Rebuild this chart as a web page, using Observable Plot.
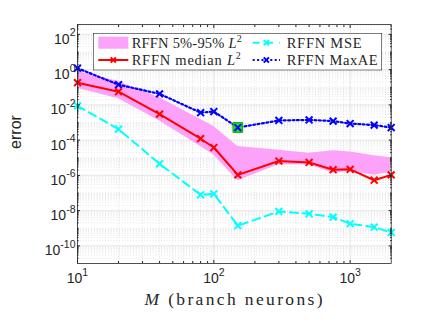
<!DOCTYPE html>
<html><head><meta charset="utf-8">
<script src="https://cdn.jsdelivr.net/npm/d3@7"></script>
<script src="https://cdn.jsdelivr.net/npm/@observablehq/plot@0.6"></script>
<style>
html,body{margin:0;padding:0;background:#fff;}
#chart{position:relative;width:432px;height:324px;}
</style></head><body><div id="chart"></div>
<script>
// ---- data ----
const M      = [10, 20, 40, 80, 100, 150, 300, 500, 750, 1000, 1500, 2000];
const median = [0.18, 0.056, 0.0030, 1.2e-4, 3.8e-5, 1.07e-6, 6.5e-6, 5.4e-6, 2.1e-6, 2.2e-6, 5.3e-7, 1.07e-6];
const q05    = [0.089, 0.022, 1.2e-3, 4.4e-5, 1.45e-5, 5e-7, 4e-6, 4e-6, 1.3e-6, 1.7e-6, 1.0e-6, 1.5e-6];
const q95    = [0.78, 0.21, 0.025, 1.5e-3, 5.9e-4, 4.4e-5, 2.7e-5, 1.8e-5, 2.5e-5, 2.1e-5, 1.3e-5, 1.0e-5];
const mse    = [8.8e-3, 4.2e-4, 4.5e-6, 7.9e-8, 9e-8, 1.4e-9, 9e-9, 6.6e-9, 4.3e-9, 1.8e-9, 1.15e-9, 5.8e-10];
const maxae  = [1.2, 0.14, 0.042, 0.0036, 0.0042, 5.2e-4, 1.3e-3, 1.4e-3, 1.2e-3, 8.7e-4, 7.1e-4, 5.2e-4];
const highlightM = [150];
const highlightErr = [5.2e-4];
const xTicks = [10, 100, 1000];
const yTicks = [1e-10, 1e-8, 1e-6, 1e-4, 1e-2, 1, 1e2];
const legendLabels = ["RFFN 5%-95% ", "RFFN median ", "RFFN MSE", "RFFN MaxAE"];
const xLabel = "M";
const xLabelRest = " (branch neurons)";
const yLabel = "error";

const rows = M.map((m, i) => ({M: m, median: median[i], q05: q05[i], q95: q95[i], mse: mse[i], maxae: maxae[i]}));
const hl = highlightM.map((m, i) => ({M: m, v: highlightErr[i]}));

const xDomain = [10, 2000];
const yDomain = [1e-11, Math.pow(10, 2.56)];
// minor ticks / grid
const xMinor = [];
for (const d of [10, 100, 1000]) for (let k = 2; k <= 9; k++) { const v = k * d; if (v < xDomain[1]) xMinor.push(v); }
const yMinor = [];
for (let e = -11; e <= 2; e++) for (let k = 1; k <= 9; k++) {
  const v = k * Math.pow(10, e);
  if (k === 1 && e % 2 === 0) continue;
  if (v > yDomain[0] && v < yDomain[1]) yMinor.push(v);
}

const AX = "#262626";
const sans = "'Liberation Sans', Arial, Helvetica, sans-serif";
const serif = "'Liberation Serif', 'Times New Roman', serif";
const fmt = d => "10^" + Math.round(Math.log10(d));
const MR = 3.2;

const plot = Plot.plot({
  width: 432, height: 324,
  marginLeft: 77, marginRight: 41.3, marginTop: 24, marginBottom: 61,
  style: {background: "transparent", fontFamily: sans, fontSize: "14px", color: AX, overflow: "visible"},
  x: {type: "log", domain: xDomain},
  y: {type: "log", domain: yDomain},
  marks: [
    Plot.ruleX(xMinor, {stroke: "#cfcfcf", strokeWidth: 0.5, strokeDasharray: "1,1.8"}),
    Plot.ruleY(yMinor, {stroke: "#cfcfcf", strokeWidth: 0.5, strokeDasharray: "1,1.8"}),
    Plot.ruleX(xTicks, {stroke: "#dcdcdc", strokeWidth: 0.7}),
    Plot.ruleY(yTicks, {stroke: "#dcdcdc", strokeWidth: 0.7}),
    Plot.areaY(rows, {x: "M", y1: "q05", y2: "q95", fill: "#fca2f8"}),
    Plot.line(rows, {x: "M", y: "mse", stroke: "#00ffff", strokeWidth: 2, strokeDasharray: "8,5"}),
    Plot.dot(rows, {x: "M", y: "mse", symbol: "times", r: MR, stroke: "#00ffff", strokeWidth: 2}),
    Plot.line(rows, {x: "M", y: "maxae", stroke: "#0000ff", strokeWidth: 2.2, strokeDasharray: "2,2.4"}),
    Plot.dot(hl, {x: "M", y: "v", symbol: "square", r: 5.5, fill: "#22e022", stroke: "#00b000", strokeWidth: 1}),
    Plot.dot(rows, {x: "M", y: "maxae", symbol: "times", r: MR, stroke: "#0000ff", strokeWidth: 2}),
    Plot.line(rows, {x: "M", y: "median", stroke: "#ff0000", strokeWidth: 2}),
    Plot.dot(rows, {x: "M", y: "median", symbol: "times", r: MR, stroke: "#ff0000", strokeWidth: 2}),
    // tick marks (inward) on all four sides
    Plot.axisX(xTicks, {anchor: "bottom", tickSize: -3, tickFormat: () => "", label: null, stroke: AX}),
    Plot.axisX(xTicks, {anchor: "top", tickSize: -3, tickFormat: () => "", label: null, stroke: AX}),
    Plot.axisX(xMinor, {anchor: "bottom", tickSize: -2, tickFormat: () => "", label: null, stroke: AX}),
    Plot.axisX(xMinor, {anchor: "top", tickSize: -2, tickFormat: () => "", label: null, stroke: AX}),
    Plot.axisY(yTicks, {anchor: "left", tickSize: -3, tickFormat: () => "", label: null, stroke: AX}),
    Plot.axisY(yTicks, {anchor: "right", tickSize: -3, tickFormat: () => "", label: null, stroke: AX}),
    Plot.axisY(yMinor, {anchor: "left", tickSize: -1.6, tickFormat: () => "", label: null, stroke: AX}),
    Plot.axisY(yMinor, {anchor: "right", tickSize: -1.6, tickFormat: () => "", label: null, stroke: AX}),
    // tick labels
    Plot.axisX(xTicks, {anchor: "bottom", tickSize: 0, tickPadding: 10, tickFormat: fmt, label: null, fill: AX, fontSize: 14}),
    Plot.axisY(yTicks, {anchor: "left", tickSize: 0, tickPadding: 2, tickFormat: fmt, label: null, fill: AX, fontSize: 14}),
    Plot.frame({stroke: AX, strokeWidth: 0.8})
  ]
});
document.getElementById("chart").appendChild(plot);

const svg = d3.select(plot);
// superscripts in tick labels
function supify(sel, isY) {
  sel.each(function () {
    const t = d3.select(this);
    const s = t.text();
    if (!s.includes("^")) return;
    const [b, e] = s.split("^");
    t.text("");
    if (isY) t.attr("dy", null).attr("y", 9.5);
    t.append("tspan").text(b);
    t.append("tspan").attr("dy", -7.5).attr("font-size", 10.5).text(e);
  });
}
supify(svg.selectAll('g[aria-label="x-axis tick label"] text'), false);
supify(svg.selectAll('g[aria-label="y-axis tick label"] text'), true);

// axis titles
svg.append("text").attr("transform", "translate(21,132) rotate(-90)")
  .attr("text-anchor", "middle").attr("font-family", sans).attr("font-size", 16)
  .attr("fill", AX).text(yLabel);
const xl = svg.append("text").attr("x", 233.5).attr("y", 305).attr("text-anchor", "middle")
  .attr("font-family", serif).attr("font-size", 17.5).attr("fill", AX)
  .attr("textLength", 178).attr("lengthAdjust", "spacing");
xl.append("tspan").attr("font-style", "italic").text(xLabel);
xl.append("tspan").text(xLabelRest);

// legend
const lg = svg.append("g").attr("text-anchor", "start");
lg.append("rect").attr("x", 93.3).attr("y", 33.3).attr("width", 288.4).attr("height", 36.7)
  .attr("fill", "#fff").attr("stroke", AX).attr("stroke-width", 0.6);
const rowY = [42.7, 60];
const colX = [98.3, 252.7];
const swW = [30, 27.3];
const txX = [131.7, 286.7];
const txW = [110, 109, 75, 91];
function legText(x, y, label, withL, w) {
  const t = lg.append("text").attr("x", x).attr("y", y).attr("dy", "0.35em").attr("text-anchor", "start")
    .attr("font-family", serif).attr("font-size", 14.5).attr("fill", AX)
    .attr("textLength", w).attr("lengthAdjust", "spacing");
  t.append("tspan").text(label);
  if (withL) {
    t.append("tspan").attr("font-style", "italic").text("L");
    t.append("tspan").attr("dy", -6).attr("font-size", 10).text("2");
  }
}
function cross(cx, cy, color) {
  lg.append("path").attr("d", `M${cx-2.6},${cy-2.6}L${cx+2.6},${cy+2.6}M${cx-2.6},${cy+2.6}L${cx+2.6},${cy-2.6}`)
    .attr("stroke", color).attr("stroke-width", 2).attr("fill", "none");
}
// band swatch
lg.append("rect").attr("x", colX[0]).attr("y", rowY[0] - 6).attr("width", swW[0]).attr("height", 12).attr("fill", "#fca2f8");
legText(txX[0], rowY[0], legendLabels[0], true, txW[0]);
// median
lg.append("line").attr("x1", colX[0]).attr("x2", colX[0] + swW[0]).attr("y1", rowY[1]).attr("y2", rowY[1])
  .attr("stroke", "#ff0000").attr("stroke-width", 2);
cross(colX[0] + swW[0] / 2, rowY[1], "#ff0000");
legText(txX[0], rowY[1], legendLabels[1], true, txW[1]);
// mse
lg.append("line").attr("x1", colX[1]).attr("x2", colX[1] + swW[1]).attr("y1", rowY[0]).attr("y2", rowY[0])
  .attr("stroke", "#00ffff").attr("stroke-width", 2).attr("stroke-dasharray", "7,6.3");
cross(colX[1] + swW[1] / 2, rowY[0], "#00ffff");
legText(txX[1], rowY[0], legendLabels[2], false, txW[2]);
// maxae
lg.append("line").attr("x1", colX[1]).attr("x2", colX[1] + swW[1]).attr("y1", rowY[1]).attr("y2", rowY[1])
  .attr("stroke", "#0000ff").attr("stroke-width", 2.2).attr("stroke-dasharray", "2,2.4");
cross(colX[1] + swW[1] / 2, rowY[1], "#0000ff");
legText(txX[1], rowY[1], legendLabels[3], false, txW[3]);
</script></body></html>
